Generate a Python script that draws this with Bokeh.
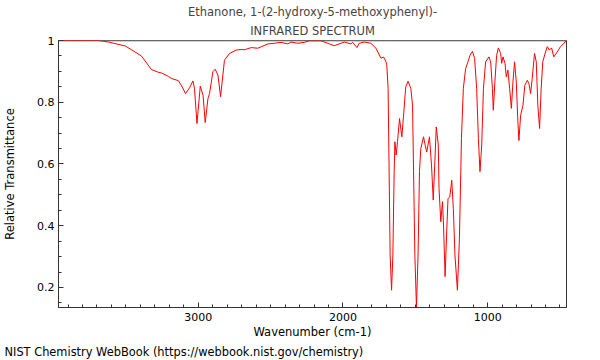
from bokeh.plotting import figure
from bokeh.models import Range1d, FixedTicker, NumeralTickFormatter, Title, Span
from bokeh.embed import file_html
from bokeh.resources import INLINE

title_line1 = "Ethanone, 1-(2-hydroxy-5-methoxyphenyl)-"
title_line2 = "INFRARED SPECTRUM"
x_label = "Wavenumber (cm-1)"
y_label = "Relative Transmittance"
credit = "NIST Chemistry WebBook (https://webbook.nist.gov/chemistry)"

wavenumber = [
    3965, 3807, 3690, 3621, 3503, 3393, 3324, 3276, 3255, 3207, 3186, 3138, 3117,
    3088, 3060, 3037, 3026, 3009, 2986, 2967, 2952, 2933, 2922, 2899, 2883, 2864,
    2846, 2835, 2819, 2784, 2738, 2703, 2681, 2634, 2588, 2519, 2474, 2428, 2381,
    2359, 2312, 2267, 2232, 2152, 2105, 2060, 1991, 1945, 1933, 1903, 1888, 1853,
    1807, 1772, 1738, 1719, 1703, 1697, 1688, 1681, 1674, 1664, 1655, 1646, 1641,
    1632, 1623, 1609, 1593, 1581, 1566, 1550, 1531, 1519, 1512, 1503, 1492, 1481,
    1471, 1462, 1443, 1432, 1421, 1402, 1388, 1376, 1366, 1355, 1341, 1336, 1324,
    1312, 1305, 1294, 1283, 1274, 1262, 1248, 1237, 1226, 1209, 1195, 1181, 1168,
    1152, 1136, 1122, 1105, 1090, 1076, 1064, 1053, 1041, 1029, 1014, 991, 979,
    967, 961, 950, 938, 926, 910, 903, 894, 880, 871, 860, 848, 836, 825, 814, 802,
    791, 784, 772, 756, 743, 726, 715, 703, 692, 676, 664, 653, 641, 630, 619, 600,
    588, 572, 558, 543, 519, 497, 474, 457,
]
transmittance = [
    1.0, 1.0, 1.0, 0.995, 0.982, 0.950, 0.906, 0.897, 0.895, 0.884, 0.877, 0.870, 0.855,
    0.828, 0.847, 0.869, 0.844, 0.731, 0.852, 0.823, 0.734, 0.812, 0.828, 0.899, 0.907, 0.888,
    0.818, 0.866, 0.936, 0.958, 0.969, 0.971, 0.970, 0.977, 0.975, 0.989, 0.991, 0.994, 0.989,
    0.995, 0.991, 0.994, 0.999, 0.999, 0.991, 0.983, 0.995, 0.989, 0.994, 0.977, 0.991, 0.995,
    0.991, 0.975, 0.943, 0.946, 0.932, 0.920, 0.845, 0.576, 0.305, 0.191, 0.305, 0.576, 0.672,
    0.629, 0.672, 0.747, 0.688, 0.758, 0.850, 0.868, 0.845, 0.790, 0.576, 0.305, 0.135, 0.305,
    0.576, 0.650, 0.688, 0.661, 0.639, 0.688, 0.596, 0.483, 0.596, 0.720, 0.661, 0.521, 0.413,
    0.478, 0.402, 0.235, 0.380, 0.488, 0.493, 0.547, 0.456, 0.305, 0.191, 0.359, 0.683, 0.845,
    0.909, 0.931, 0.952, 0.965, 0.942, 0.845, 0.683, 0.575, 0.661, 0.845, 0.931, 0.947, 0.931,
    0.845, 0.774, 0.866, 0.952, 0.976, 0.958, 0.926, 0.947, 0.926, 0.882, 0.904, 0.845, 0.780, 0.866, 0.931, 0.866,
    0.737, 0.676, 0.758, 0.790, 0.855, 0.871, 0.861, 0.828, 0.877, 0.958, 0.931, 0.790, 0.715, 0.845, 0.931, 0.963,
    0.980, 0.969, 0.976, 0.947, 0.963, 0.980, 0.990, 1.0,
]
x_major = [3000, 2000, 1000]
x_minor = list(range(500, 4000, 100))
y_major = [0.2, 0.4, 0.6, 0.8, 1.0]
y_minor = [0.15, 0.25, 0.3, 0.35, 0.45, 0.5, 0.55, 0.65, 0.7, 0.75, 0.85, 0.9, 0.95]

FONT = "DejaVu Sans"
AXIS = "#333333"

p = figure(width=600, height=360, output_backend="svg", toolbar_location=None,
           x_range=Range1d(3966, 455), y_range=Range1d(0.135, 1.0),
           min_border_left=57, min_border_right=34, min_border_top=40,
           min_border_bottom=53, title=title_line1)
p.title.align = "center"
p.title.text_font = FONT
p.title.text_font_size = "11.5px"
p.title.text_font_style = "normal"
p.title.standoff = 2
t2 = Title(text=title_line2, align="center", text_font=FONT,
           text_font_size="11.5px", text_font_style="normal", standoff=5)
p.add_layout(t2, "above")

p.xgrid.visible = False
p.ygrid.visible = False
p.outline_line_color = AXIS
p.background_fill_color = "white"
p.border_fill_color = "white"

top = Span(location=1.0, dimension="width", line_color="#a0a0a0", line_width=2, level="underlay")
p.add_layout(top)

for ax in (p.xaxis[0], p.yaxis[0]):
    ax.major_tick_in = 5
    ax.major_tick_out = 0
    ax.minor_tick_in = 3
    ax.minor_tick_out = 0
    ax.axis_line_color = AXIS
    ax.major_tick_line_color = AXIS
    ax.minor_tick_line_color = AXIS
    ax.major_label_text_font = FONT
    ax.major_label_text_font_size = "11px"
    ax.major_label_text_color = "black"
    ax.axis_label_text_font = FONT
    ax.axis_label_text_font_size = "11.5px"
    ax.axis_label_text_font_style = "normal"
    ax.axis_label_text_color = "black"

p.xaxis.ticker = FixedTicker(ticks=x_major, minor_ticks=x_minor)
p.yaxis.ticker = FixedTicker(ticks=y_major, minor_ticks=y_minor)
p.yaxis.formatter = NumeralTickFormatter(format="0.[0]")
p.xaxis.axis_label = x_label
p.yaxis.axis_label = y_label
p.xaxis.major_label_standoff = 5
p.xaxis.axis_label_standoff = 1
p.yaxis.major_label_standoff = 4
p.yaxis.axis_label_standoff = 17

p.line(wavenumber, transmittance, line_color="#ff0000", line_width=1)

credit_title = Title(text=credit, align="left", offset=-54, text_font=FONT,
                     text_font_size="11.4px", text_font_style="normal",
                     text_color="black", standoff=2)
p.add_layout(credit_title, "below")

open("out.html", "w").write(file_html(p, INLINE))
